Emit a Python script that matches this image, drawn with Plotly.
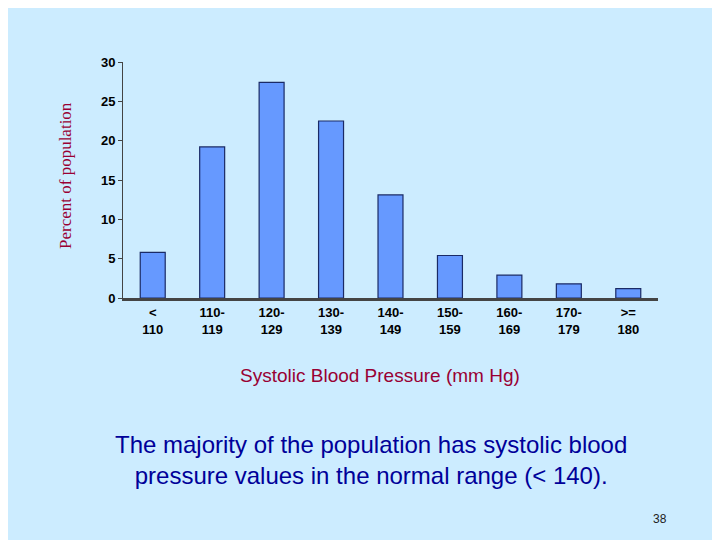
import plotly.graph_objects as go

categories = ["<<br>110", "110-<br>119", "120-<br>129", "130-<br>139", "140-<br>149",
              "150-<br>159", "160-<br>169", "170-<br>179", ">=<br>180"]
percent = [5.8, 19.2, 27.4, 22.5, 13.1, 5.4, 2.9, 1.8, 1.2]
y_ticks = [0, 5, 10, 15, 20, 25, 30]

W, H = 720, 540
bg = "#CCECFF"
red = "#990033"
tick_font = dict(size=13, family="Liberation Sans, Arial", color="black", weight="bold")

fig = go.Figure(go.Bar(
    x=categories, y=percent, width=0.42,
    marker=dict(color="#6699FF", line=dict(color="#1a2a66", width=1.2)),
))

fig.update_layout(
    width=W, height=H,
    paper_bgcolor=bg, plot_bgcolor=bg,
    margin=dict(l=0, r=0, t=0, b=0),
    showlegend=False,
    font=dict(family="Liberation Sans, Arial", color="black"),
    xaxis=dict(domain=[115 / W, 650 / W], tickfont=tick_font, automargin=False,
               showline=True, linecolor="#444", linewidth=3, ticks=""),
    yaxis=dict(domain=[(H - 290) / H, (H - 54) / H], range=[0, 30], tickvals=y_ticks,
               tickfont=tick_font, automargin=False,
               showgrid=False, zeroline=False, showline=True, linecolor="#444",
               ticks="outside", ticklen=4, anchor="x"),
)

def ann(text, x, y, size, color, **kw):
    fig.add_annotation(text=text, x=x / W, y=1 - y / H, xref="paper", yref="paper",
                       xanchor="center", yanchor="middle", showarrow=False,
                       font=dict(size=size, color=color,
                                 family=kw.pop("family", "Liberation Sans, Arial")),
                       **kw)

ann("Percent of population", 57, 168, 17, red, textangle=-90, family="Liberation Serif, Times New Roman")
ann("Systolic Blood Pressure (mm Hg)", 372, 367, 19, red)
ann("The majority of the population has systolic blood<br>pressure values in the normal range (< 140).",
    363, 452, 24, "#000099", align="center")
ann("38", 652, 511, 12, "#222")

fig.write_html("out.html")
